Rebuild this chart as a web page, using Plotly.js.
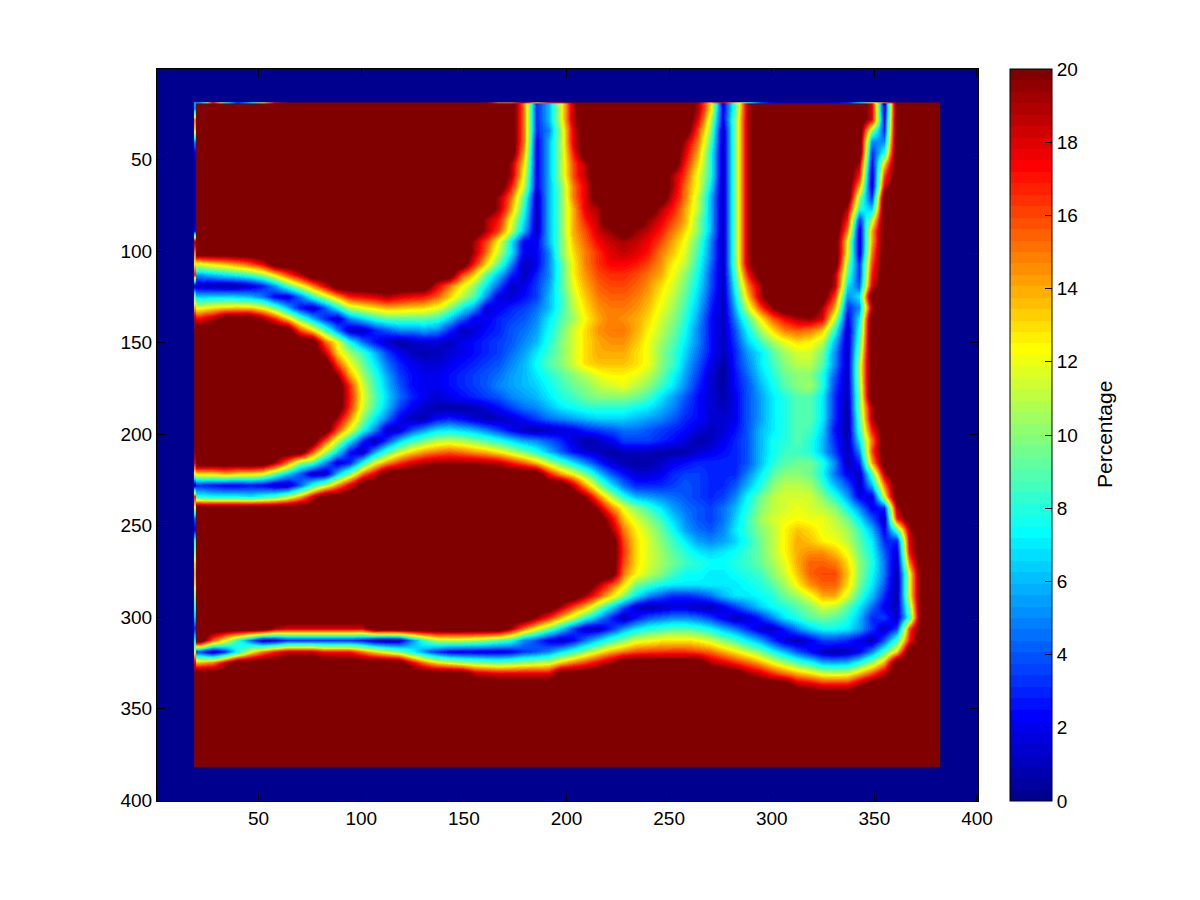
<!DOCTYPE html>
<html>
<head>
<meta charset="utf-8">
<script src="https://cdn.plot.ly/plotly-3.0.1.min.js"></script>
<style>html,body{margin:0;padding:0;background:#fff}</style>
</head>
<body>
<div id="chart" style="width:1200px;height:900px"></div>
<script>
// Each row: first number = count of leading saturated cells, then values; rest saturated.
const percentageRows = [
[26,15,3,6,12,19,20,20,20,20,20,20,20,20,20,19,13,2,9,19,20,20,20,20,20,20,20,20,20,18,1,20],
[26,15,3,6,12,19,20,20,20,20,20,20,20,20,20,18,11,2,10,19,20,20,20,20,20,20,20,20,20,18,2,20],
[26,15,3,5,11,18,20,20,20,20,20,20,20,20,20,16,10,1,10,19,20,20,20,20,20,20,20,20,20,10,3,20],
[26,15,2,6,11,18,20,20,20,20,20,20,20,20,19,15,9,1,10,19,20,20,20,20,20,20,20,20,20,5,5,20],
[26,14,2,6,11,17,20,20,20,20,20,20,20,20,18,14,8,1,10,19,20,20,20,20,20,20,20,20,20,3,8,20],
[25,19,13,2,6,11,16,19,20,20,20,20,20,20,20,17,13,8,1,10,19,20,20,20,20,20,20,20,20,19,2,13,20],
[25,19,12,2,6,11,16,19,20,20,20,20,20,20,19,16,12,8,1,10,19,20,20,20,20,20,20,20,20,17,1,16,20],
[25,17,11,2,6,10,15,18,20,20,20,20,20,20,19,15,12,7,1,10,19,20,20,20,20,20,20,20,20,14,1,18,20],
[24,19,15,9,1,6,10,15,18,20,20,20,20,20,20,18,15,11,6,1,10,19,20,20,20,20,20,20,20,20,10,3,20],
[24,19,14,8,1,6,10,14,18,19,20,20,20,20,19,17,14,11,6,1,10,19,20,20,20,20,20,20,20,19,8,6,20],
[23,19,17,12,7,1,6,10,14,17,19,20,20,20,19.5,18,16,14,10,6,1,10,19,20,20,20,20,20,20,20,17,3,11,20],
[23,19,16,11,6,1,6,10,14,16,18.5,19.5,20,19.5,18.5,17,15,13,10,6,1,10,19,20,20,20,20,20,20,20,15,1,14,20],
[22,19,16,12,7,2,2,6,10,13.5,15.5,17.5,18.5,19,18.5,17.5,16,14,12,9,5,1,10,19,20,20,20,20,20,20,20,12,1,14,20],
[22,19,15,11,7,2,2,5,10,13,15,16.5,18,18.5,18,17,15,13.5,11.5,8.5,5,1,10,19,20,20,20,20,20,20,20,12,1,15,20],
[0,12,13,13.7,14.8,16,18,20,20,20,20,20,20,20,20,20,20,20,20,20,20,20,20,17,13,9,5,1,2,5,9,12.5,15,16.5,17.5,17.5,17,16,14.5,12.5,11,8,4.5,1,10,19,20,20,20,20,20,20,20,10,3,16,20],
[0,5.5,6.3,7,7.7,8.7,10.3,13,16,18.7,20,20,20,20,20,20,20,20,20,20,20,20,16,13,9,6,3,1,3,5,9,12.5,14.5,16,16.5,16.5,16,15,14,12,10,7.5,4,1,9,17,20,20,20,20,20,20,19,9,3,17,20],
[0,1,0.6,0.5,0.6,1.3,2.8,5.5,8.7,11.6,14.8,18,20,20,20,20,20,20,20,20,18,15,12.5,10,7,4,1,2,3.5,5.5,9,12,14,15.5,16,16,15.5,14.5,13,11.5,9.5,7,4,1,8,15,19,20,20,20,20,20,19,7,4,18,20],
[0,6.5,6.7,6.7,6.5,6,4.7,2,1.5,4.5,8,11,14,17,17.5,18,19,18,17.4,17,15.5,13.3,10.8,8.7,5,1.7,1.5,2.5,3.5,6,8.5,11.5,13.5,15,15.5,15.5,15,14,12.5,11,9,6.5,3.5,1,7,13.5,19,20,20,20,20,20,16,5,7,20],
[0,12,12.8,13.3,13.5,13.3,12,9.3,6,2.5,1,4,7.6,11,12,13,13.8,13.6,13.3,13,12,10,7.4,5.4,1.5,2,3,3.5,4.5,6,8.5,11,13,14.5,15,15,14.5,13.5,12,10.5,8.5,6,3,1,6,11.5,16,19.5,20,20,20,19,14,3,5,19,20],
[0,17.5,19,20,20,20,19.5,16.7,13.3,9.4,6,3,1,5,6.5,8,9,9,9,9,8.4,6.3,4,2,2,3,3.5,4,5,7,9,10.5,12.5,14,15,14.5,14,13,11.5,10,8,5.5,2.5,1,5,9,12.5,15.5,17.5,19,19.5,18,11,2,7,20],
[8,16,13,9,5,1,1,3,4,5,5,5.5,5,3,1,1.5,2.5,3,4,4.5,5.5,7.5,9.5,11.5,13,14.5,15,15,14,12.5,11,9.5,7.5,5,2.5,1,4,7.5,10.5,13,15,15.5,15,13.5,8,1,8,20],
[10,15.5,12,7.5,4.5,2.5,1,0.5,1,1.5,1.5,1,2,2.5,3,3.5,4,5,6,8,10,11.5,13,14,14.5,14.5,13.5,12,10.5,9,7,5,2.5,1,3.5,6.5,8.5,10.5,12,13,12.5,11,6,1,9,20],
[10,18.5,13,10.5,8.5,6,3.5,2,1,0.8,1,1.5,2,2.5,3,3.5,4.5,5.5,7,8.5,10,11.5,13,14,14,14,13,12,10,8.5,6.5,4.5,2.5,1,3,5.5,7,9,10.5,11.5,11.5,9.5,5,1,10,20],
[11,16,12,9.5,7,4.5,3,2,1.5,1.5,2,2.5,3,3.5,4,5,6,7.5,9,10,11.5,13,13.5,13.5,13.5,13,12,10,8.5,6,4,2,0.5,3,5,7,8.5,10,11,11,9,5,1,11,20],
[11,19.5,14,10.5,8,5.5,3.5,2.5,2,2,2.5,3,3.5,4,4.5,5.5,6,7,8,9,10,11,12,12.5,12.5,12,11,9.5,7.5,5.5,3.5,1.5,0.5,2.5,4.5,6.5,8,9.5,10,10,8,4,1,11,20],
[12,16.5,11.5,8.5,6,4,2.5,2,2,2.5,3,3.5,4,5,5.5,6,6.5,7.5,8.5,9.5,10,11,11.5,12,11,10,8.5,7,5,3,1.5,0.5,2.5,4,6,7.5,9,10,10.5,8,3.5,1,10.5,20],
[12,17,12,9,6.5,4.5,3,2,1.5,2,2.5,3,3.5,4,5,5.5,6,7,8,8.5,9.5,10,10,10,9.5,8.5,7,5.5,4,2.5,1.5,0.8,2,4,5.5,7,8,9,9,7,3,0.8,10,20],
[12,16.5,11.5,8.5,6,3.5,2,1.2,0.8,0.6,0.6,0.8,1.5,2.5,3.5,4.5,5,6,7,7.5,8,8,8,8,7.5,7,6,5,3.5,2.5,1.5,1,2,4,5.5,7,8,9,9,7,3,0.5,10,19,20],
[11,19,14.5,10,7,4.5,2,1,0.8,2.4,3,2.3,1.5,0.7,1,1.5,2.5,3.5,4.5,5,5.5,6,6.5,6.5,6.5,6,5.5,5,4,3,2.5,1.5,1.5,2,4,5.5,7,8,9,9,7,3,0.5,9,19,20],
[11,16,12,8,5,1,1.4,3.8,5.3,6.7,7,6.5,5.8,4.8,3.4,2,1,0.5,1,1.5,2,3,3.5,4,4.5,4.5,4,3.5,3,2.5,1.5,1,1.5,2.5,4,6,7,8,9,8.5,6.5,2.5,0.5,8.5,17,20],
[10,16,11,7,3,0.5,3.5,6.4,8.5,9.8,11,11.3,10.8,10,9,8,6.8,5.6,5,4,3,1.5,0.5,1,2,3.5,3.5,3.5,3,2.5,1.5,0.7,1,2,3,4,6,7.5,8,9,8,6,3,0.8,7,15,20],
[9,16,11,7,2.5,0.7,5.5,9,11.4,13,14.3,15,15.5,15,14.2,13.6,12.5,11,9.5,8,6,4,2.5,1.5,1,0.5,1,1,1,0.7,0.6,0.8,1.5,2,2.5,3,4,6,7.5,8.5,8.5,8,6,3.5,0.7,5,16,20],
[6,19,15,10,8.7,5,1.5,2.8,7.7,12,14.5,16.4,18,19,19.5,19.5,19.5,19.5,19,18.5,17,15.5,13.5,11,9,7,5,3,1.5,0.8,0.5,0.7,1.2,2,2.5,3,3,3,3,4,6,8,9,9.5,9.5,8,5,0.8,3,14,20],
[0,13,13,14,13,13,12,9,6.5,4,1,0.8,6,10,15,18,20,20,20,20,20,20,20,20,20,20,20,20,20,17,14,12,9.5,6.5,4,2.5,1.5,1.5,2,3,3.5,3.5,3,3,3,5,7,9,10,10,9.5,7.5,4.5,2,1,9,19,20],
[0,3,2.5,2,2,2.5,2,1,0.8,4,8,11,14.5,18,20,20,20,20,20,20,20,20,20,20,20,20,20,20,20,20,20,18.5,14,10,7,4.5,3,3,3,3.5,4,3.5,3,3,4,6,8,10,11,11,10.5,8.5,6,4,1,6,15,20],
[0,8,7.5,7.5,7.5,7,8,9,11,14,18,20,20,20,20,20,20,20,20,20,20,20,20,20,20,20,20,20,20,20,20,20,19.5,15,11,8,6,5.5,5,4.5,4,3.5,3,3.5,5,7.5,9.5,11,11.5,11.5,11.5,10,8,5.5,2,1.5,12,20],
[32,19,15,12,10,8.5,7,5.5,4.5,4,3.5,4.5,6,8,10,11,11.5,12,11.5,11,10,7.5,5,2,3,19,20],
[33,18,13.5,11.5,10,8.5,6.5,5,4,3.5,4.5,6.5,8.5,10.5,11.5,12,12.3,12,12,11,9.5,7,4,1,17,20],
[33,19.5,15,12.5,11,9.5,7.5,5.5,4.5,4,5,7,8.5,10,11,12.5,13.5,13,12,11.5,10.5,8.5,6,2,9,19,20],
[34,16,13,11.5,10,8.5,7,5.5,5,5.5,6.5,8,9.5,11,12.5,14,13.5,12.5,12,11,9,7,3,3,18,20],
[34,16.5,13,11.5,10.5,9,8,7,6.5,7,7.5,8.5,9.5,11,12.5,14,14.5,14.5,13.5,12,9.5,7.5,4,1.5,17.5,20],
[34,16,13,11.5,10.5,9.5,8.5,8,7.5,7.5,8,8.5,9.5,10.5,12,14,15.5,15.5,15,13,10,8,4.5,1,15,20],
[34,15,12.5,11,10,8.5,7.5,7.5,7,7,7.5,8,8.5,10,11.5,13.5,15.5,16,16,13.5,10,7.5,4.5,0.7,12,20],
[32,19,16,13,9.5,8.5,7.5,7,7,7,7,7,7,7.5,8,9,10.5,12.5,14.5,15.5,15.5,13,9.5,7,4,0.5,12,20],
[31,19,16,13,10,7,5,4,3,3,3.5,4.5,6,7,7,7.5,8,9.5,10.5,12,14,14,11.5,8.5,6,3,0.7,12,20],
[29,19,16,13.5,10,7,4,1.5,0.5,1,1.5,1.5,1,0.7,2,3.5,5,6.5,7.5,8,9,10,11.5,11,9,7,4.5,2,1,10,20],
[27,19.5,16.7,13.5,11,8,5.5,3,0.5,2.5,4,4.5,5,5,4.5,3.5,2,0.8,1.5,3,5,7,8,9,9.5,9,8,6,3,3.5,1,8.5,20],
[6,19,18,18,18,18,18,18,18,20,20,20,20,20,20,20,20,20,20,20,19,15,12,9.3,6.5,3.5,1,1,3,5.3,7,8,8.5,9,9,8.4,7.5,6,4.7,3,1.2,1,3,5,6.5,7.5,7.5,7,5.5,3.5,0.8,3.5,16,20],
[1,15.7,12,8,4.6,1,1.4,3,3,3,3,3,3,2.4,1,0.5,1,5,8.5,10.7,11,11,10.5,10,9,8,5,3.7,2,1,2.3,4.7,6.7,8.5,10,11.6,12,12.5,12.8,12.8,12.3,11.4,10,8.7,7,5.5,3.3,1.3,0.8,2,3.5,3.5,3,2,0.7,4,8.5,17,20],
[0,3.3,0.5,3,7.7,12,15,17,18.5,18.5,18.5,17,17,17,15,13,11.5,10,7.6,5,3,1.8,1.6,1.6,1.5,1.5,2,3.3,4,5,7,8.6,10.5,12.3,14,15,16,16.3,16.4,16.5,16.5,16,15.4,14,12.7,11.3,9.8,7.8,6,4,2.5,1,0.5,1,2,5,9,13,20],
[0,14,15,18.6,20,20,20,20,20,20,20,20,20,20,20,20,20,20,18,15,13,12,11,10.4,10,9.6,10,10.7,11,11.5,13.5,15,16.3,18,19.5,20,20,20,20,20,20,20,19,18,16.7,15.5,14,12.2,10.6,9,7.8,6,5.8,6,8,10.5,14,20],
[22,19,18.5,18,18,18,18,18,20,20,20,20,20,20,20,20,20,20,20,20,20,20,20,19.5,18.4,16.7,15.3,14,13,11.8,11.6,11.8,13.7,16,19,20],
[48,19,18.5,17.4,17.4,17.4,19.5,20],
[60],[60],[60],[60],[60],[60],[60]
];
// Thin one-pixel strips along the left and top edges of the image.
const leftEdgeValues = [5,15,13,5,2,1,1,1,1,1,1,2,19,15,12.5,17,1,10,14,19,20,20,20,20,20,20,20,20,20,20,20,20,18,12,1,17,12,4,2,8,10,13,14,13,10,8,6,3,7,12,18,20,20,20,20,20,20,20,20,20];
const topEdgeValues = [6,17,9,3,7,12,18,20,20,20,20,20,20,20,20,20,20,20,20,20,20,20,20,20,15,15,19,13,17,18,20,20,20,20,20,20,20,20,20,20,20,14,18,13,9,4,2,1,1,1,1,2,3,7,12,15,20,20,20,20];
const saturatedBeyondScale = 22;
const columnCount = 60;
const axisTicks = [50,100,150,200,250,300,350,400];
const colorbarTicks = [0,2,4,6,8,10,12,14,16,18,20];
const jetStops = [[0,[0,0,143]],[0.111,[0,0,255]],[0.365,[0,255,255]],[0.619,[255,255,0]],[0.873,[255,0,0]],[1,[128,0,0]]];

// Cells at the top of the scale are clipped in the picture: their true value lies above it.
const z = percentageRows.map(r => {
  const out = new Array(r[0]).fill(20).concat(r.slice(1));
  while (out.length < columnCount) out.push(20);
  return out.map(v => v >= 20 ? saturatedBeyondScale : v);
});
function jetAt(t){
  for(let i=1;i<jetStops.length;i++){
    if(t<=jetStops[i][0]){
      const a=jetStops[i-1],b=jetStops[i],f=(t-a[0])/(b[0]-a[0]);
      return 'rgb('+a[1].map((c,k)=>Math.round(c+(b[1][k]-c)*f)).join(',')+')';
    }
  }
  return 'rgb(128,0,0)';
}
const levels=64, jet=[];
for(let i=0;i<levels;i++){
  const c=jetAt(i/(levels-1));
  jet.push([i/levels,c]); jet.push([(i+1)/levels,c]);
}
const font='"Liberation Sans", Arial, sans-serif';
const trace={
  type:'heatmap', z:z, x0:21.53, dx:6.058, y0:22.03, dy:6.05,
  zmin:0, zmax:20, zsmooth:'best', colorscale:jet, hoverinfo:'z',
  colorbar:{
    thickness:42, thicknessmode:'pixels', len:1, lenmode:'fraction', x:1.039, xanchor:'left', y:0.5, yanchor:'middle',
    outlinecolor:'#000', outlinewidth:1, borderwidth:0, xpad:0, ypad:0,
    tickmode:'array', tickvals:colorbarTicks, ticktext:colorbarTicks.map(String),
    ticks:'inside', ticklen:7, tickcolor:'#000', tickwidth:1,
    tickfont:{family:font,size:19,color:'#000'}
  }
};
const leftEdge={type:'heatmap',z:leftEdgeValues.map(v=>[v,v]),x0:18.75,dx:0.5,y0:22.03,dy:6.05,zmin:0,zmax:20,zsmooth:'best',colorscale:jet,showscale:false,hoverinfo:'skip'};
const topEdge={type:'heatmap',z:[topEdgeValues,topEdgeValues],x0:21.53,dx:6.058,y0:18.9,dy:0.4,zmin:0,zmax:20,zsmooth:'best',colorscale:jet,showscale:false,hoverinfo:'skip'};
const axis={showgrid:false,zeroline:false,showline:true,linecolor:'#000',linewidth:1,mirror:'ticks',
  ticks:'inside',ticklen:8,tickcolor:'#000',tickwidth:1,tickmode:'array',tickvals:axisTicks,ticktext:axisTicks.map(String),
  tickfont:{family:font,size:19,color:'#000'}};
const layout={
  width:1200,height:900,margin:{l:157,r:222,t:69,b:99},
  paper_bgcolor:'#fff',plot_bgcolor:'rgb(0,0,143)',showlegend:false,
  xaxis:Object.assign({},axis,{range:[0.5,400.5]}),
  yaxis:Object.assign({},axis,{range:[400.5,0.5]}),
  annotations:[{text:'Percentage',xref:'paper',yref:'paper',x:1.1535,y:0.5,xanchor:'center',yanchor:'middle',showarrow:false,textangle:-90,font:{family:font,size:21,color:'#000'}}]
};
Plotly.newPlot('chart',[trace,leftEdge,topEdge],layout,{displayModeBar:false,staticPlot:true});
</script>
</body>
</html>
